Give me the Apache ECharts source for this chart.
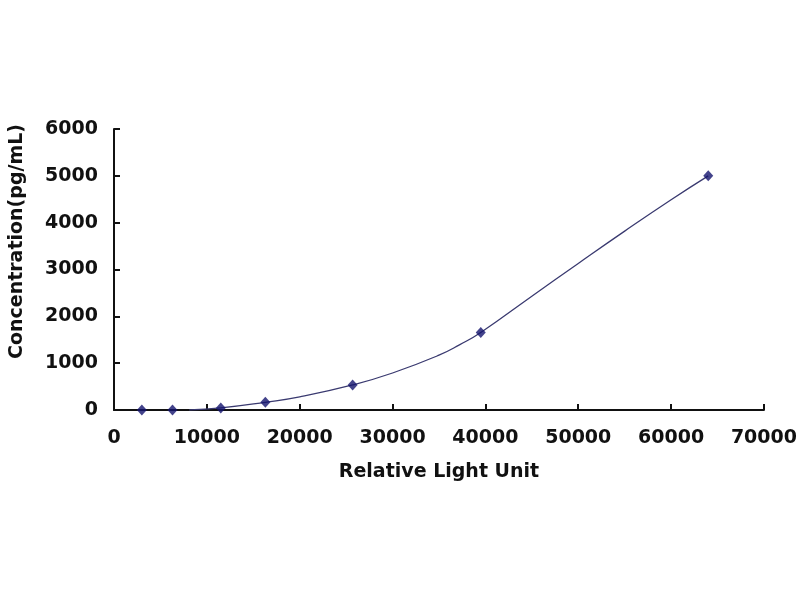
<!DOCTYPE html>
<html>
<head>
<meta charset="utf-8">
<script src="https://cdn.jsdelivr.net/npm/echarts@6/dist/echarts.min.js"></script>
<style>
  html, body { margin: 0; padding: 0; background: #fff; }
  #main { width: 800px; height: 600px; }
</style>
</head>
<body>
<div id="main"></div>
<script>
// standard points (RLU, concentration)
var rlu = [3000, 6300, 11500, 16300, 25700, 39500, 64000];
var conc = [0, 0, 45, 165, 535, 1655, 5000];

// fitted curve
var curveX = [8100, 11500, 16300, 20000, 25700, 30000, 35000, 37250, 39500, 45000, 50000, 55000, 60000, 64000];
var curveY = [0, 45, 165, 280, 535, 790, 1170, 1395, 1655, 2430, 3130, 3820, 4490, 5000];

var xTicks = [0, 10000, 20000, 30000, 40000, 50000, 60000, 70000];
var yTicks = [0, 1000, 2000, 3000, 4000, 5000, 6000];

var myChart = echarts.init(document.getElementById('main'));

var pts = rlu.map(function (x, i) { return [x, conc[i]]; });
var curve = curveX.map(function (x, i) { return [x, curveY[i]]; });

var font = {
    color: '#111',
    fontSize: 19,
    fontWeight: 'bold',
    fontFamily: 'DejaVu Sans, Verdana, sans-serif'
};

option = {
    backgroundColor: '#fff',
    animation: false,
    grid: {
        left: 113,
        right: 34,
        top: 129,
        bottom: 190
    },
    xAxis: {
        type: 'value',
        min: xTicks[0],
        max: xTicks[xTicks.length - 1],
        interval: 10000,
        name: 'Relative Light Unit',
        nameLocation: 'middle',
        nameGap: 53,
        nameTextStyle: font,
        axisLine: { lineStyle: { color: '#111', width: 2 } },
        axisTick: { inside: true, length: 6, lineStyle: { color: '#111', width: 2 } },
        axisLabel: Object.assign({ margin: 19, formatter: function (v) { return String(v); } }, font),
        splitLine: { show: false }
    },
    yAxis: {
        type: 'value',
        min: yTicks[0],
        max: yTicks[yTicks.length - 1],
        interval: 1000,
        name: 'Concentration(pg/mL)',
        nameLocation: 'middle',
        nameGap: 87,
        nameTextStyle: Object.assign({ padding: [0, 0, 0, 56] }, font),
        axisLine: { show: true, lineStyle: { color: '#111', width: 2 } },
        axisTick: { show: true, inside: true, length: 6, lineStyle: { color: '#111', width: 2 } },
        axisLabel: Object.assign({ margin: 16, formatter: function (v) { return String(v); } }, font),
        splitLine: { show: false }
    },
    series: [
        {
            // 拟合曲线
            type: 'line',
            data: curve,
            smooth: 0.5,
            showSymbol: false,
            lineStyle: { color: '#3a3a70', width: 1.3 },
            z: 2
        },
        {
            type: 'scatter',
            data: pts,
            symbol: 'diamond',
            symbolSize: [10, 11],
            itemStyle: { color: '#14146e' },
            z: 3
        }
    ]
};
myChart.setOption(option);
</script>
</body>
</html>
